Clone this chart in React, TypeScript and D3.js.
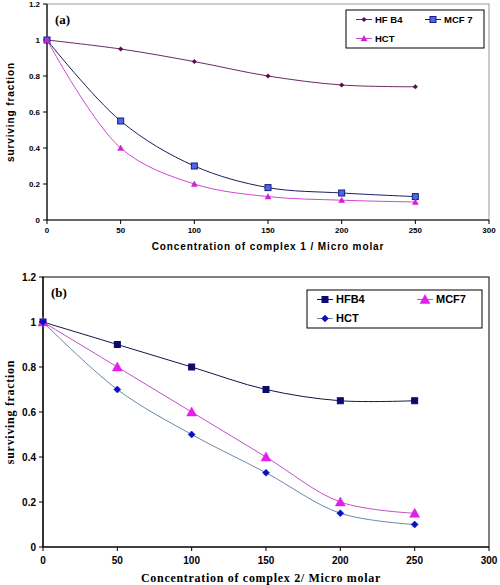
import React from "react";
import * as d3 from "d3";

const concentrations = [0, 50, 100, 150, 200, 250];
const xTicks = [0, 50, 100, 150, 200, 250, 300];
const yTicksA = [0, 0.2, 0.4, 0.6, 0.8, 1, 1.2];
const yTicksB = [0, 0.2, 0.4, 0.6, 0.8, 1, 1.2];

const aHFB4 = [1, 0.95, 0.88, 0.8, 0.75, 0.74];
const aMCF7 = [1, 0.55, 0.3, 0.18, 0.15, 0.13];
const aHCT = [1, 0.4, 0.2, 0.13, 0.11, 0.1];

const bHFB4 = [1, 0.9, 0.8, 0.7, 0.65, 0.65];
const bMCF7 = [1, 0.8, 0.6, 0.4, 0.2, 0.15];
const bHCT = [1, 0.7, 0.5, 0.33, 0.15, 0.1];

type Shape = "diamond" | "square" | "triangle";

function Marker({ shape, x, y, size, fill, stroke }: { shape: Shape; x: number; y: number; size: number; fill: string; stroke: string }) {
  const s = size / 2;
  if (shape === "square") {
    return <rect x={x - s} y={y - s} width={size} height={size} fill={fill} stroke={stroke} strokeWidth={1} />;
  }
  if (shape === "diamond") {
    return <path d={`M${x},${y - s}L${x + s},${y}L${x},${y + s}L${x - s},${y}Z`} fill={fill} stroke={stroke} strokeWidth={0.5} />;
  }
  return <path d={`M${x},${y - s}L${x + s},${y + s * 0.8}L${x - s},${y + s * 0.8}Z`} fill={fill} stroke={stroke} strokeWidth={0.5} />;
}

interface Series {
  name: string;
  values: number[];
  line: string;
  fill: string;
  stroke: string;
  shape: Shape;
  size: number;
}

interface PanelProps {
  left: number;
  right: number;
  top: number;
  bottom: number;
  yTicks: number[];
  series: Series[];
  label: string;
  xTitle: string;
  yTitle: string;
  tickFont: string;
  tickSize: number;
  titleFont: string;
  titleSize: number;
  titleSpacing: number;
  frameColor: string;
  legend: { x: number; y: number; w: number; h: number; col2: number; fontSize: number };
  xTitleY: number;
  xTitleX: number;
  yTitleX: number;
  tickLabelY: number;
}

function Panel(p: PanelProps) {
  const x = d3.scaleLinear().domain([0, 300]).range([p.left, p.right]);
  const y = d3.scaleLinear().domain([0, 1.2]).range([p.bottom, p.top]);
  const line = d3
    .line<number>()
    .x((_, i) => x(concentrations[i]))
    .y((d) => y(d))
    .curve(d3.curveCatmullRom.alpha(0.5));
  const legendPos = [
    { dx: 0, dy: 0 },
    { dx: p.legend.col2, dy: 0 },
    { dx: 0, dy: p.legend.h / 2 },
  ];
  return (
    <g>
      <rect x={p.left} y={p.top} width={p.right - p.left} height={p.bottom - p.top} fill="white" stroke={p.frameColor} strokeWidth={1} />
      <line x1={p.left} x2={p.right} y1={p.bottom} y2={p.bottom} stroke="#000" strokeWidth={1.2} />
      <line x1={p.left} x2={p.left} y1={p.top} y2={p.bottom} stroke="#000" strokeWidth={1.2} />
      {p.yTicks.map((t) => (
        <g key={"y" + t}>
          <line x1={p.left - 4} x2={p.left} y1={y(t)} y2={y(t)} stroke="#000" />
          <text x={p.left - 7} y={y(t)} dy="0.35em" textAnchor="end" fontFamily={p.tickFont} fontSize={p.tickSize} fontWeight="bold">
            {String(t)}
          </text>
        </g>
      ))}
      {xTicks.map((t) => (
        <g key={"x" + t}>
          <line x1={x(t)} x2={x(t)} y1={p.bottom} y2={p.bottom + 4} stroke="#000" />
          <text x={x(t)} y={p.tickLabelY} textAnchor="middle" fontFamily={p.tickFont} fontSize={p.tickSize} fontWeight="bold">
            {String(t)}
          </text>
        </g>
      ))}
      {p.series.map((s) => (
        <g key={s.name}>
          <path d={line(s.values) || ""} fill="none" stroke={s.line} strokeWidth={1} />
          {s.values.map((v, i) => (
            <Marker key={i} shape={s.shape} x={x(concentrations[i])} y={y(v)} size={s.size} fill={s.fill} stroke={s.stroke} />
          ))}
        </g>
      ))}
      <text x={p.left + 8} y={p.top + 20} fontFamily="Liberation Serif, serif" fontWeight="bold" fontSize={13}>
        {p.label}
      </text>
      <rect x={p.legend.x} y={p.legend.y} width={p.legend.w} height={p.legend.h} fill="white" stroke="#000" strokeWidth={1} />
      {p.series.map((s, i) => {
        const lx = p.legend.x + 10 + legendPos[i].dx;
        const ly = p.legend.y + p.legend.h / 4 + legendPos[i].dy;
        return (
          <g key={"lg" + s.name}>
            <line x1={lx} x2={lx + 16} y1={ly} y2={ly} stroke={s.line} strokeWidth={1} />
            <Marker shape={s.shape} x={lx + 8} y={ly} size={s.size} fill={s.fill} stroke={s.stroke} />
            <text x={lx + 19} y={ly} dy="0.35em" fontFamily="Liberation Sans, Arial, sans-serif" fontWeight="bold" fontSize={p.legend.fontSize}>
              {s.name}
            </text>
          </g>
        );
      })}
      <text x={p.xTitleX} y={p.xTitleY} textAnchor="middle" fontFamily={p.titleFont} fontWeight="bold" fontSize={p.titleSize} letterSpacing={p.titleSpacing}>
        {p.xTitle}
      </text>
      <text
        transform={`translate(${p.yTitleX},${(p.top + p.bottom) / 2}) rotate(-90)`}
        textAnchor="middle"
        fontFamily={p.titleFont}
        fontWeight="bold"
        fontSize={p.titleSize}
        letterSpacing={p.titleSpacing}
      >
        {p.yTitle}
      </text>
    </g>
  );
}

export default function App() {
  const seriesA: Series[] = [
    { name: "HF B4", values: aHFB4, line: "#6a2a62", fill: "#5a0a50", stroke: "#5a0a50", shape: "diamond", size: 4.5 },
    { name: "MCF 7", values: aMCF7, line: "#1c1c5c", fill: "#4a6ae8", stroke: "#1a1a80", shape: "square", size: 6 },
    { name: "HCT", values: aHCT, line: "#d048d0", fill: "#d020d0", stroke: "#d020d0", shape: "triangle", size: 6 },
  ];
  const seriesB: Series[] = [
    { name: "HFB4", values: bHFB4, line: "#14144a", fill: "#0a0a70", stroke: "#0a0a70", shape: "square", size: 6 },
    { name: "MCF7", values: bMCF7, line: "#c050c8", fill: "#e020e8", stroke: "#e020e8", shape: "triangle", size: 10 },
    { name: "HCT", values: bHCT, line: "#6a88a8", fill: "#0a10c0", stroke: "#0a10c0", shape: "diamond", size: 7 },
  ];
  return (
    <svg width={500} height={585} style={{ position: "absolute", left: 0, top: 0, background: "white" }}>
      <rect width={500} height={585} fill="white" />
      <Panel
        left={47}
        right={489}
        top={4}
        bottom={220}
        yTicks={yTicksA}
        series={seriesA}
        label="(a)"
        xTitle="Concentration of complex 1 / Micro molar"
        yTitle="surviving fraction"
        tickFont="Liberation Sans, Arial, sans-serif"
        tickSize={8}
        titleFont="Liberation Sans, Arial, sans-serif"
        titleSize={10}
        titleSpacing={0.9}
        frameColor="#999"
        legend={{ x: 346, y: 10, w: 138, h: 38, col2: 69, fontSize: 9.5 }}
        xTitleY={250}
        xTitleX={268}
        yTitleX={14}
        tickLabelY={233}
      />
      <Panel
        left={43}
        right={489}
        top={277}
        bottom={547}
        yTicks={yTicksB}
        series={seriesB}
        label="(b)"
        xTitle="Concentration of complex 2/ Micro molar"
        yTitle="surviving fraction"
        tickFont="Liberation Sans, Arial, sans-serif"
        tickSize={10}
        titleFont="Liberation Serif, serif"
        titleSize={12}
        titleSpacing={0.7}
        frameColor="#000"
        legend={{ x: 307, y: 290, w: 175, h: 38, col2: 100, fontSize: 11 }}
        xTitleY={582}
        xTitleX={261}
        yTitleX={14}
        tickLabelY={564}
      />
    </svg>
  );
}
